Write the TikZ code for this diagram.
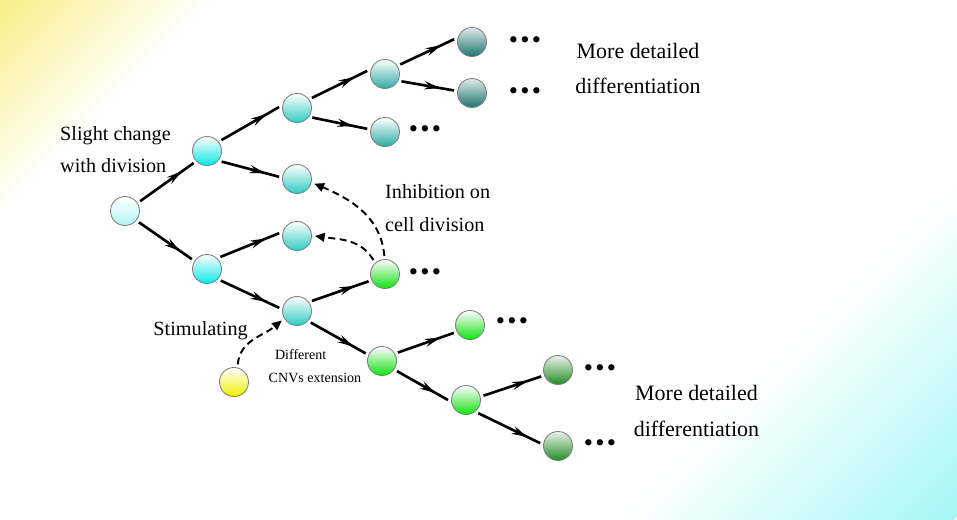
\documentclass[tikz,border=0pt]{standalone}
\usepackage{fontspec}
\setmainfont{Liberation Serif}
\usetikzlibrary{arrows.meta,decorations.markings}
\definecolor{bgyellow}{RGB}{248,236,128}
\definecolor{bgcyan}{RGB}{164,246,246}
\definecolor{cpale}{RGB}{176,244,244}
\definecolor{caqua}{RGB}{10,230,230}
\definecolor{cteal}{RGB}{44,204,196}
\definecolor{cteald}{RGB}{44,172,164}
\definecolor{ctealdd}{RGB}{30,116,110}
\definecolor{cgreen}{RGB}{16,226,16}
\definecolor{cgreend}{RGB}{36,140,36}
\definecolor{cyell}{RGB}{240,240,0}
\newcommand{\celldots}{\textbullet\hspace{1.3pt}\textbullet\hspace{1.3pt}\textbullet}
\begin{document}
\begin{tikzpicture}[x=0.02cm,y=0.02cm,
    ball/.style={circle,draw=black!50,line width=0.5pt,minimum size=0.58cm,inner sep=0pt,outer sep=2pt},
    ball0/.style={ball,top color=white,bottom color=cpale},
    ball1/.style={ball,top color=white,bottom color=caqua},
    ball2/.style={ball,top color=white,bottom color=cteal},
    ball3/.style={ball,top color=white,bottom color=cteald},
    ball4/.style={ball,top color=ctealdd!15,bottom color=ctealdd},
    greenball/.style={ball,top color=white,bottom color=cgreen},
    darkgreenball/.style={ball,top color=cgreend!10,bottom color=cgreend},
    yellowball/.style={ball,top color=white,bottom color=cyell},
    split/.style={line width=1.5pt,postaction={decorate},
        decoration={markings,mark=at position -8pt with {\arrow{Stealth[length=9pt,width=4.5pt]}}}},
    ctrl/.style={line width=1.1pt,dash pattern=on 4pt off 2.5pt,-{Triangle[length=5.5pt,width=5pt]}},
    lbl/.style={font=\fontsize{11.5}{18.4}\selectfont,align=left},
    bigl/.style={font=\fontsize{12.5}{20.4}\selectfont,align=center},
    smalll/.style={font=\fontsize{8}{10}\selectfont},
    dots/.style={font=\fontsize{15}{17}\selectfont,inner sep=0pt}]
    % background
    \useasboundingbox (0,0) rectangle (957,-520);
    \fill[white] (0,0) rectangle (957,-520);
    \begin{scope}
        \clip (0,0) rectangle (957,-520);
        \begin{scope}[transform canvas={rotate around={-45:(478.5,-260)}}]
            \shade[left color=bgyellow,right color=white] (-51.5,-960) rectangle (108.5,440);
            \shade[left color=white,right color=bgcyan] (758.5,-960) rectangle (998.5,440);
        \end{scope}
    \end{scope}
    % cells
    \node[ball0] (root) at (125,-211) {};
    \node[ball1] (s1) at (207,-151) {};
    \node[ball1] (s2) at (207,-269) {};
    \node[ball2] (t1) at (297,-108) {};
    \node[ball2] (t2) at (297,-179) {};
    \node[ball2] (t3) at (297,-236) {};
    \node[ball2] (t4) at (297,-311) {};
    \node[ball3] (u1) at (385,-74) {};
    \node[ball3] (u2) at (385,-132) {};
    \node[ball4] (v1) at (472,-42) {};
    \node[ball4] (v2) at (472,-93) {};
    \node[greenball] (g1) at (385,-274) {};
    \node[greenball] (g2) at (382,-361) {};
    \node[greenball] (g3) at (470,-325) {};
    \node[greenball] (g4) at (466,-400) {};
    \node[darkgreenball] (g5) at (558,-370) {};
    \node[darkgreenball] (g6) at (558,-446) {};
    \node[yellowball] (stim) at (234,-382) {};
    % divisions
    \draw[split] (root.33) -- (s1.222);
    \draw[split] (root.-39) -- (s2.147);
    \draw[split] (s1.37) -- (t1.177);
    \draw[split] (s1.-36) -- (t2.173);
    \draw[split] (s2.42) -- (t3.171);
    \draw[split] (s2.-40) -- (t4.170);
    \draw[split] (t1.34) -- (u1.170);
    \draw[split] (t1.-32) -- (u2.170);
    \draw[split] (u1.32) -- (v1.171);
    \draw[split] (u1.-24) -- (v2.172);
    \draw[split] (t4.34) -- (g1.204);
    \draw[split] (t4.-40) -- (g2.155);
    \draw[split] (g2.28) -- (g3.206);
    \draw[split] (g2.-34) -- (g4.180);
    \draw[split] (g4.14) -- (g5.201);
    \draw[split] (g4.-47) -- (g6.171);
    % dashed effects
    \draw[ctrl] (g1.92) to[out=95,in=-23] (t2.-15);
    \draw[ctrl] (g1.130) to[out=120,in=-8] (t3.0);
    \draw[ctrl] (stim.78) to[out=85,in=220] (t4.212);
    % dots
    \node[dots] (v1d) at (525,-43) {\celldots};
    \node[dots] (v2d) at (525,-94) {\celldots};
    \node[dots] (u2d) at (425,-132) {\celldots};
    \node[dots] (g1d) at (425,-275) {\celldots};
    \node[dots] (g3d) at (512,-324) {\celldots};
    \node[dots] (g5d) at (600,-371) {\celldots};
    \node[dots] (g6d) at (600,-446) {\celldots};
    % labels
    \node[lbl,anchor=west] (slight) at (54,-149.5) {Slight change\\with division};
    \node[lbl,anchor=west] (inhib) at (379,-208) {Inhibition on\\cell division};
    \node[lbl,anchor=east] (stimtext) at (254,-331) {Stimulating};
    \node[bigl] (detail1) at (638,-68.5) {More detailed\\differentiation};
    \node[bigl] (detail2) at (696.5,-411) {More detailed\\differentiation};
    \node[smalll] (cnv1) at (300.7,-355) {Different};
    \node[smalll] (cnv2) at (315,-378.3) {CNVs extension};
\end{tikzpicture}
\end{document}
